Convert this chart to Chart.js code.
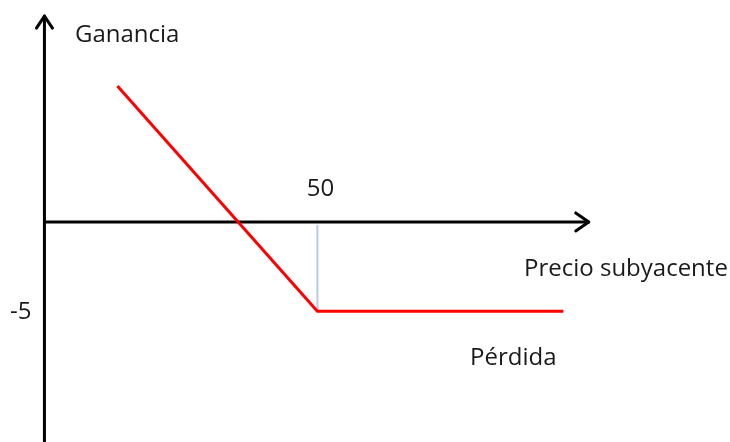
<!DOCTYPE html>
<html>
<head>
<meta charset="utf-8">
<script src="https://cdn.jsdelivr.net/npm/chart.js@4.4.0/dist/chart.umd.min.js"></script>
<style>
	html, body { margin: 0; padding: 0; background: #fff; }
	#wrap { width: 730px; height: 442px; position: relative; }
</style>
</head>
<body>
<div id="wrap"><canvas id="payoffChart"></canvas></div>
<script>
// precio del subyacente (x) y ganancia/pérdida (y) de la put comprada
let prices = [37.4, 50, 65.5];
let profit = [7.6, -5, -5];
let strike = 50;
let premium = -5;
let tickX = ['50'];
let tickY = ['-5'];

let xMin = 30, xMax = 76;
let yMin = -12.3, yMax = 12.4;
let axisX0 = 32.8;   // donde cruza el eje vertical
let axisXEnd = 67.1; // punta de la flecha horizontal
let axisYTop = 11.5; // punta de la flecha vertical

let font = '24px "Open Sans", "Noto Sans", sans-serif';

// dibuja ejes con flechas, la línea del strike y los textos
let axesPlugin = {
	id: 'axesPlugin',
	beforeDatasetsDraw(chart) {
		let ctx = chart.ctx;
		let x = chart.scales.x, y = chart.scales.y;
		let ox = x.getPixelForValue(axisX0);
		let oy = y.getPixelForValue(0);
		ctx.save();
		// línea del strike
		ctx.strokeStyle = '#b9c9ea';
		ctx.lineWidth = 2;
		ctx.beginPath();
		ctx.moveTo(x.getPixelForValue(strike), oy + 3);
		ctx.lineTo(x.getPixelForValue(strike), y.getPixelForValue(premium));
		ctx.stroke();

		ctx.strokeStyle = '#000';
		ctx.lineWidth = 3;
		ctx.lineCap = 'round';
		ctx.lineJoin = 'round';
		// eje vertical
		let top = y.getPixelForValue(axisYTop);
		ctx.beginPath();
		ctx.moveTo(ox, chart.height + 5);
		ctx.lineTo(ox, top);
		ctx.stroke();
		ctx.beginPath();
		ctx.moveTo(ox - 8, top + 12);
		ctx.lineTo(ox, top);
		ctx.lineTo(ox + 8, top + 12);
		ctx.stroke();
		// eje horizontal
		let end = x.getPixelForValue(axisXEnd);
		ctx.beginPath();
		ctx.moveTo(ox, oy);
		ctx.lineTo(end, oy);
		ctx.stroke();
		ctx.beginPath();
		ctx.moveTo(end - 13, oy - 9);
		ctx.lineTo(end, oy);
		ctx.lineTo(end - 13, oy + 9);
		ctx.stroke();
		ctx.restore();
	},
	afterDatasetsDraw(chart) {
		let ctx = chart.ctx;
		let x = chart.scales.x, y = chart.scales.y;
		ctx.save();
		ctx.font = font;
		ctx.fillStyle = '#1a1a1a';
		ctx.textBaseline = 'middle';
		ctx.textAlign = 'center';
		ctx.fillText(tickX[0], x.getPixelForValue(strike) + 3, y.getPixelForValue(0) - 33);
		ctx.textAlign = 'left';
		ctx.fillText(tickY[0], 10, y.getPixelForValue(premium) + 1);
		ctx.fillText('Ganancia', 75, 35);
		ctx.fillText('Precio subyacente', 524, 269);
		ctx.fillText('Pérdida', 470, 358);
		ctx.restore();
	}
};

new Chart('payoffChart', {
	type: 'line',
	data: {
		datasets: [{
			data: prices.map((p, i) => ({ x: p, y: profit[i] })),
			borderColor: '#ff0000',
			borderWidth: 3,
			pointRadius: 0,
			fill: false,
			tension: 0
		}]
	},
	options: {
		responsive: true,
		maintainAspectRatio: false,
		animation: false,
		layout: { padding: 0 },
		plugins: { legend: { display: false }, tooltip: { enabled: false } },
		scales: {
			x: { type: 'linear', min: xMin, max: xMax, display: false },
			y: { type: 'linear', min: yMin, max: yMax, display: false }
		}
	},
	plugins: [axesPlugin]
});
</script>
</body>
</html>
